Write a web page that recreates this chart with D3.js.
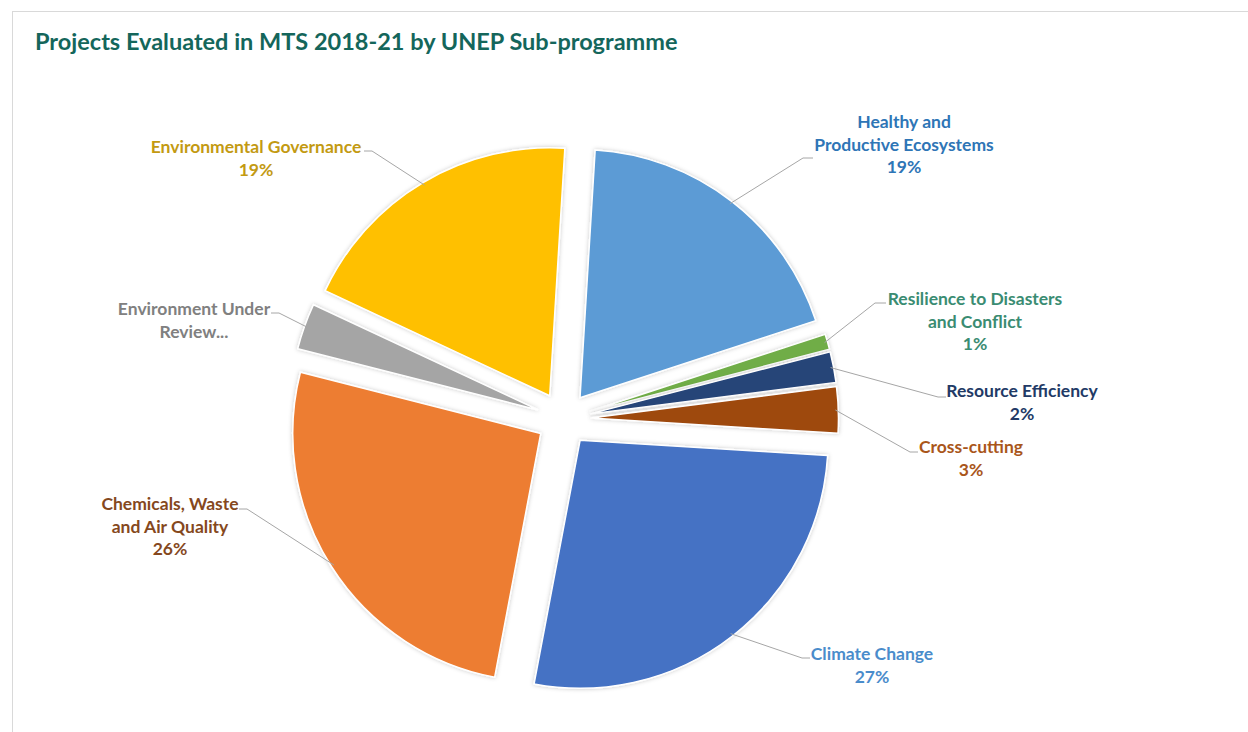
<!DOCTYPE html>
<html><head><meta charset="utf-8">
<script src="https://cdn.jsdelivr.net/npm/d3@7"></script>
<style>
html,body{margin:0;padding:0;background:#fff;}
svg{display:block;}
text{font-family:Lato,"Open Sans",sans-serif;font-weight:bold;}
</style></head>
<body>
<svg id="chart" width="1248" height="732"></svg>
<script>
// ---- data ----
const title = "Projects Evaluated in MTS 2018-21 by UNEP Sub-programme";
const categories = ["Healthy and Productive Ecosystems","Resilience to Disasters and Conflict","Resource Efficiency","Cross-cutting","Climate Change","Chemicals, Waste and Air Quality","Environment Under Review","Environmental Governance"];
const values = [19, 1, 2, 3, 27, 26, 3, 19];
const labelText = [
  ["Healthy and","Productive Ecosystems","19%"],
  ["Resilience to Disasters","and Conflict","1%"],
  ["Resource Efficiency","2%"],
  ["Cross-cutting","3%"],
  ["Climate Change","27%"],
  ["Chemicals, Waste","and Air Quality","26%"],
  ["Environment Under","Review..."],
  ["Environmental Governance","19%"]
];
const sliceColors = ["#5B9BD5","#70AD47","#264478","#9E480E","#4472C4","#ED7D31","#A5A5A5","#FFC000"];
const textColors  = ["#2E75B6","#3A8C72","#223A66","#A9561A","#4A8CCB","#85481D","#808080","#C39A12"];

// ---- layout ----
const W = 1248, H = 732;
const cx = 563.5, cy = 419, R = 248, explode = 27;
const startDeg = 3.5;
// label placement: [centerX, firstBaseline, leaderEndX, leaderElbowX, leaderY]
const labelPos = [
  [904, 128, 813, 803, 158],
  [975, 305, 886, 875, 303],
  [1022, 397, 946, 938, 397],
  [971, 453, 918, 910, 452],
  [872, 660, 810, 802, 658],
  [170, 510, 239, 247, 509],
  [194, 315, 271, 279, 313],
  [256, 153, 364, 372, 151]
];
const lineH = 22.5;

const svg = d3.select("#chart");
// chart area border
svg.append("rect").attr("x",12.5).attr("y",11.5).attr("width",W).attr("height",H)
  .attr("fill","none").attr("stroke","#D9D9D9").attr("stroke-width",1);

const defs = svg.append("defs");
const f = defs.append("filter").attr("id","sh").attr("x","-20%").attr("y","-20%").attr("width","140%").attr("height","140%");
f.append("feDropShadow").attr("dx",0).attr("dy",0).attr("stdDeviation",2).attr("flood-color","#000").attr("flood-opacity",0.22);

svg.append("text").attr("x",35).attr("y",50).attr("fill","#14665B")
  .style("font-size","23.5px").text(title);

const pie = d3.pie().sort(null).value(d=>d)
  .startAngle(startDeg*Math.PI/180).endAngle((startDeg+360)*Math.PI/180);
const arcs = pie(values);
const arc = d3.arc().innerRadius(0).outerRadius(R);

const g = svg.append("g").attr("transform",`translate(${cx},${cy})`);
arcs.forEach((a,i)=>{
  const mid = (a.startAngle+a.endAngle)/2;
  const ox = explode*Math.sin(mid), oy = -explode*Math.cos(mid);
  g.append("path").attr("d",arc(a)).attr("transform",`translate(${ox},${oy})`)
    .attr("fill",sliceColors[i]).attr("stroke","#fff").attr("stroke-width",1.5)
    .attr("filter","url(#sh)");
});

// leader lines
arcs.forEach((a,i)=>{
  const mid = (a.startAngle+a.endAngle)/2;
  const r0 = explode + R - 3;
  const sx = cx + r0*Math.sin(mid), sy = cy - r0*Math.cos(mid);
  const p = labelPos[i];
  svg.append("polyline")
    .attr("points",`${sx},${sy} ${p[3]},${p[4]} ${p[2]},${p[4]}`)
    .attr("fill","none").attr("stroke","#A6A6A6").attr("stroke-width",1);
});

// labels
labelText.forEach((lines,i)=>{
  const p = labelPos[i];
  const t = svg.append("text").attr("text-anchor","middle").attr("fill",textColors[i])
    .style("font-size","17.5px");
  lines.forEach((s,k)=>{
    t.append("tspan").attr("x",p[0]).attr("y",p[1]+k*lineH).text(s);
  });
});
</script>
</body></html>
